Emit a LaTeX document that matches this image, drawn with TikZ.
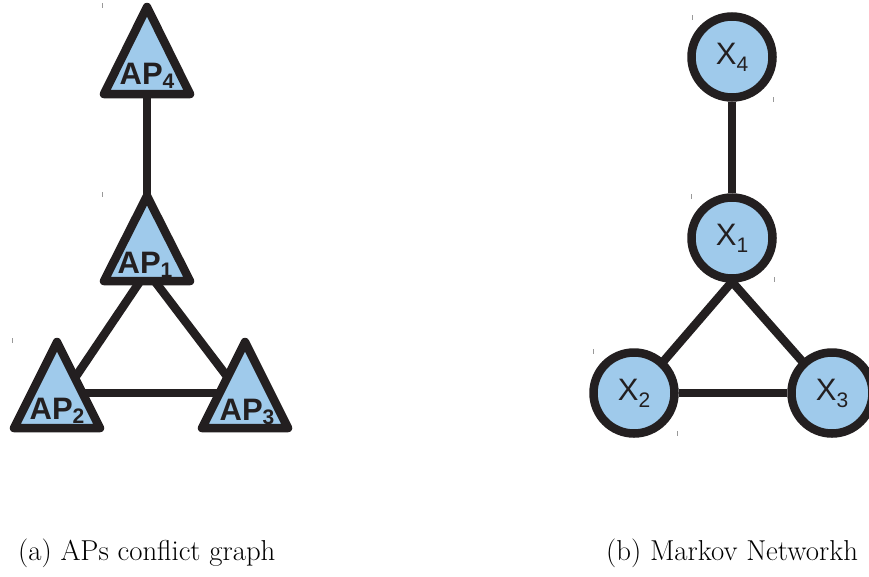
\documentclass[tikz,border=0pt]{standalone}
\usepackage{fontspec}
\usetikzlibrary{calc,backgrounds}
\newfontfamily\lsans{Liberation Sans}
\definecolor{nodefill}{HTML}{9FCAEB}
\definecolor{ink}{HTML}{231F20}
\begin{document}
\begin{tikzpicture}[x=1pt,y=-1pt,
  edge/.style={draw=ink, line width=8.5pt},
  tri/.style={draw=ink, fill=nodefill, line width=8.5pt, line join=round},
  circ/.style={circle, draw=ink, fill=nodefill, line width=8.5pt, minimum size=81pt, inner sep=0pt,
    font=\lsans\fontsize{31}{31}\selectfont, text=ink},
  aplabel/.style={font=\lsans\bfseries\fontsize{31}{31}\selectfont, text=ink, inner sep=0pt, anchor=base},
  ticky/.style={draw=gray!80, line width=0.8pt},
  capt/.style={anchor=base west, inner sep=0pt, font=\fontsize{28.8}{34}\selectfont}]
\useasboundingbox (0,0) rectangle (869,576);
\newcommand{\apsub}[1]{\raisebox{-4.5pt}{\fontsize{21}{21}\selectfont #1}}
\newcommand{\xsub}[1]{\raisebox{-7pt}{\fontsize{21}{21}\selectfont #1}}
% hub coordinates
\coordinate (h4) at (147,57);
\coordinate (h1) at (147,271);
\coordinate (h1t) at (147,230);
\coordinate (h2) at (58,403);
\coordinate (h3) at (245,400);
\coordinate (h2b) at (57,393);
\coordinate (h3b) at (245,393);
% AP edges
\draw[edge] (h4) -- (h1t);
\draw[edge] (h1) -- (h2);
\draw[edge] (h1) -- (h3);
\draw[edge] (h2b) -- (h3b);
% triangles
\draw[tri] (147,7) -- (190,94) -- (104,94) -- cycle;
\draw[tri] (147,196) -- (190,281) -- (104,281) -- cycle;
\draw[tri] (57,342) -- (100,428) -- (14,428) -- cycle;
\draw[tri] (245,342) -- (288,428) -- (202,428) -- cycle;
\node[aplabel] (ap4) at (147,84) {AP\apsub{4}};
\node[aplabel] (ap1) at (145,273) {AP\apsub{1}};
\node[aplabel] (ap2) at (57,419) {AP\apsub{2}};
\node[aplabel] (ap3) at (247,420) {AP\apsub{3}};
% Markov network
\node[circ] (x4) at (732,57) {X\xsub{4}};
\node[circ] (x1) at (732,238) {X\xsub{1}};
\node[circ] (x2) at (634,393) {X\xsub{2}};
\node[circ] (x3) at (832,393) {X\xsub{3}};
\begin{scope}[on background layer]
\draw[edge] (x4.south) -- (x1.north);
\draw[edge] (x2.east) -- (x3.west);
\draw[edge] ($(x1.south)+(0,-1)$) -- ($(x2.center)!0.5!(x2.north east)$);
\draw[edge] ($(x1.south)+(0,-1)$) -- ($(x3.center)!0.5!(x3.north west)$);
\end{scope}
% ticks
\draw[ticky] (102,3) -- (102,8);
\draw[ticky] (102,192) -- (102,197);
\draw[ticky] (12,338) -- (12,343);
\draw[ticky] (692,15) -- (692,20);
\draw[ticky] (773,97) -- (773,102);
\draw[ticky] (691,194) -- (691,199);
\draw[ticky] (774,277) -- (774,282);
\draw[ticky] (593,349) -- (593,354);
\draw[ticky] (677,431) -- (677,436);
% captions
\node[capt] (capa) at (18,560) {(a) APs conflict graph};
\node[capt] (capb) at (606,560) {(b) Markov Networkh};
\end{tikzpicture}
\end{document}
